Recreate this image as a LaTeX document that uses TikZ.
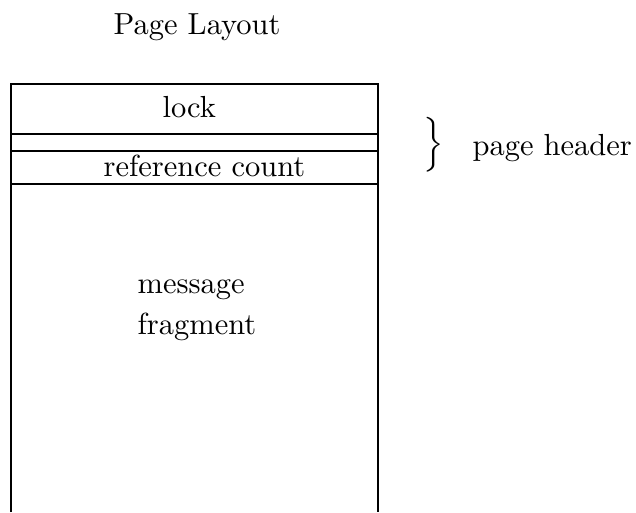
\documentclass[tikz,border=0pt]{standalone}
\usepackage{amsmath}
\begin{document}
\begin{tikzpicture}[x=0.328pt,y=-0.328pt,lbl/.style={anchor=base west,inner sep=0pt}]
\useasboundingbox (0,0) rectangle (636,512);
\draw (11,512) -- (11,84) -- (378,84) -- (378,512);
\draw (11,134) -- (378,134);
\draw (11,151) -- (378,151);
\draw (11,184) -- (378,184);
\node[lbl] (title) at (113,35) {Page Layout};
\node[lbl] (lock) at (162,117) {lock};
\node[lbl] (refcount) at (103,176) {reference count};
\node[lbl] (msg) at (137,293) {message};
\node[lbl] (frag) at (137,334) {fragment};
\node[inner sep=0pt] (brace) at (434,145) {$\Big\}$};
\node[lbl] (header) at (472,155) {page header};
\end{tikzpicture}
\end{document}
